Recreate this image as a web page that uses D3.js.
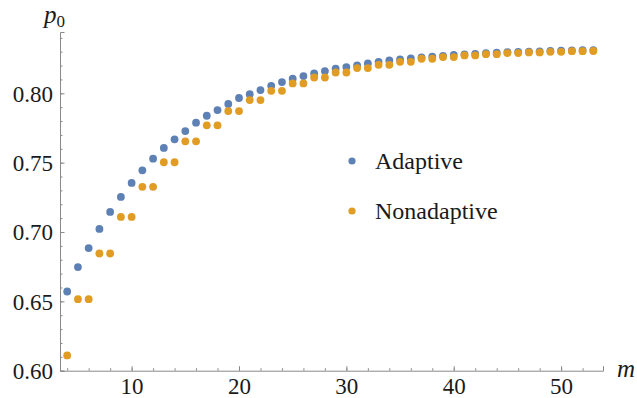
<!DOCTYPE html>
<html>
<head>
<meta charset="utf-8">
<script src="https://cdn.jsdelivr.net/npm/d3@7"></script>
<style>
  body { margin: 0; background: #fff; }
</style>
</head>
<body>
<div id="chartArea"></div>
<script>
var mValues = [4, 5, 6, 7, 8, 9, 10, 11, 12, 13, 14, 15, 16, 17, 18, 19, 20, 21, 22, 23,
  24, 25, 26, 27, 28, 29, 30, 31, 32, 33, 34, 35, 36, 37, 38, 39, 40, 41, 42, 43,
  44, 45, 46, 47, 48, 49, 50, 51, 52, 53];

var adaptive = [0.6571, 0.6747, 0.6884, 0.7022, 0.7145, 0.7253, 0.7354, 0.7445, 0.7529, 0.7606,
  0.7668, 0.7728, 0.7788, 0.7838, 0.7879, 0.7923, 0.7966, 0.7994, 0.8023, 0.8054,
  0.8081, 0.8105, 0.8124, 0.8143, 0.8160, 0.8177, 0.8189, 0.8201, 0.8215, 0.8227,
  0.8237, 0.8244, 0.8251, 0.8258, 0.8265, 0.8270, 0.8277, 0.8281, 0.8285, 0.8289,
  0.8293, 0.8296, 0.8299, 0.8301, 0.8303, 0.8305, 0.8307, 0.8309, 0.8311, 0.8312];

var nonadaptive = [0.6110, 0.6516, 0.6516, 0.6845, 0.6845, 0.7109, 0.7109, 0.7326, 0.7326, 0.7503,
  0.7503, 0.7654, 0.7654, 0.7769, 0.7769, 0.7872, 0.7872, 0.7951, 0.7951, 0.8018,
  0.8018, 0.8071, 0.8071, 0.8114, 0.8114, 0.8150, 0.8150, 0.8182, 0.8182, 0.8205,
  0.8205, 0.8227, 0.8227, 0.8249, 0.8249, 0.8261, 0.8261, 0.8273, 0.8273, 0.8282,
  0.8282, 0.8290, 0.8290, 0.8295, 0.8295, 0.8299, 0.8299, 0.8304, 0.8304, 0.8305];

var xTicks = [10, 20, 30, 40, 50];
var yTicks = [0.60, 0.65, 0.70, 0.75, 0.80];
var seriesNames = ["Adaptive", "Nonadaptive"];
var colors = ["#5e81b5", "#e19c24"];

var serif = "'Liberation Serif', 'Times New Roman', Times, Tinos, 'Noto Serif', 'DejaVu Serif', serif";

function drawChart() {
  var width = 637, height = 398;

  var x = d3.scaleLinear().domain([3.33, 53.9]).range([60, 603]);
  var y = d3.scaleLinear().domain([0.60, 0.8442]).range([370.7, 32]);

  var svg = d3
    .select("#chartArea")
    .append("svg")
    .attr("width", width)
    .attr("height", height);

  // minor ticks first, majors on top (ticks point inward)
  var xMinor = d3.axisTop(x).tickValues(d3.range(4, 54, 2)).tickSize(2.5).tickFormat("");
  var yMinor = d3.axisRight(y).tickValues(d3.range(0.61, 0.845, 0.01)).tickSize(2.5).tickFormat("");

  svg.append("g").attr("class", "minor").attr("transform", "translate(0," + y(0.60) + ")").call(xMinor);
  svg.append("g").attr("class", "minor").attr("transform", "translate(" + x.range()[0] + ",0)").call(yMinor);

  var xAxis = d3.axisTop(x).tickValues(xTicks).tickSize(4.5).tickFormat(d3.format("d"));
  var yAxis = d3.axisRight(y).tickValues(yTicks).tickSize(4.5).tickFormat(d3.format(".2f"));

  var gx = svg.append("g").attr("transform", "translate(0," + y(0.60) + ")").call(xAxis);
  var gy = svg.append("g").attr("transform", "translate(" + x.range()[0] + ",0)").call(yAxis);

  svg.selectAll(".domain").attr("stroke", "#8a8a8a").attr("stroke-width", 1);
  svg.selectAll(".tick line").attr("stroke", "#8a8a8a").attr("stroke-width", 1);
  svg.selectAll(".minor .domain").remove();

  gx.selectAll(".tick text")
    .attr("y", 23)
    .attr("dy", 0);
  gy.selectAll(".tick text")
    .attr("x", -7)
    .attr("dy", "0.34em")
    .attr("text-anchor", "end");
  svg.selectAll(".tick text")
    .attr("fill", "#1a1a1a")
    .attr("font-family", null)
    .style("font-family", serif)
    .style("font-size", "23px");

  // axis labels
  var pLabel = svg.append("text")
    .attr("x", 44)
    .attr("y", 22.5)
    .attr("fill", "#1a1a1a")
    .style("font-family", serif)
    .style("font-size", "25px");
  pLabel.append("tspan").style("font-style", "italic").text("p");
  pLabel.append("tspan").attr("dy", 4).style("font-size", "17px").text("0");

  svg.append("text")
    .attr("x", 617)
    .attr("y", 377)
    .attr("fill", "#1a1a1a")
    .style("font-family", serif)
    .style("font-size", "25px")
    .style("font-style", "italic")
    .text("m");

  var series = [adaptive, nonadaptive];
  series.forEach(function (vals, i) {
    svg.append("g")
      .selectAll("circle")
      .data(mValues)
      .enter()
      .append("circle")
      .attr("r", 3.9)
      .attr("cx", function (d) { return x(d); })
      .attr("cy", function (d, j) { return y(vals[j]); })
      .attr("fill", colors[i]);
  });

  // legend
  var legend = svg.append("g");
  seriesNames.forEach(function (name, i) {
    var ly = 161 + i * 50;
    legend.append("circle").attr("cx", 352).attr("cy", ly).attr("r", 3.6).attr("fill", colors[i]);
    legend.append("text")
      .attr("x", 375)
      .attr("y", ly + 8)
      .attr("fill", "#1a1a1a")
      .style("font-family", serif)
      .style("font-size", "24px")
      .text(name);
  });
}

drawChart();
</script>
</body>
</html>
